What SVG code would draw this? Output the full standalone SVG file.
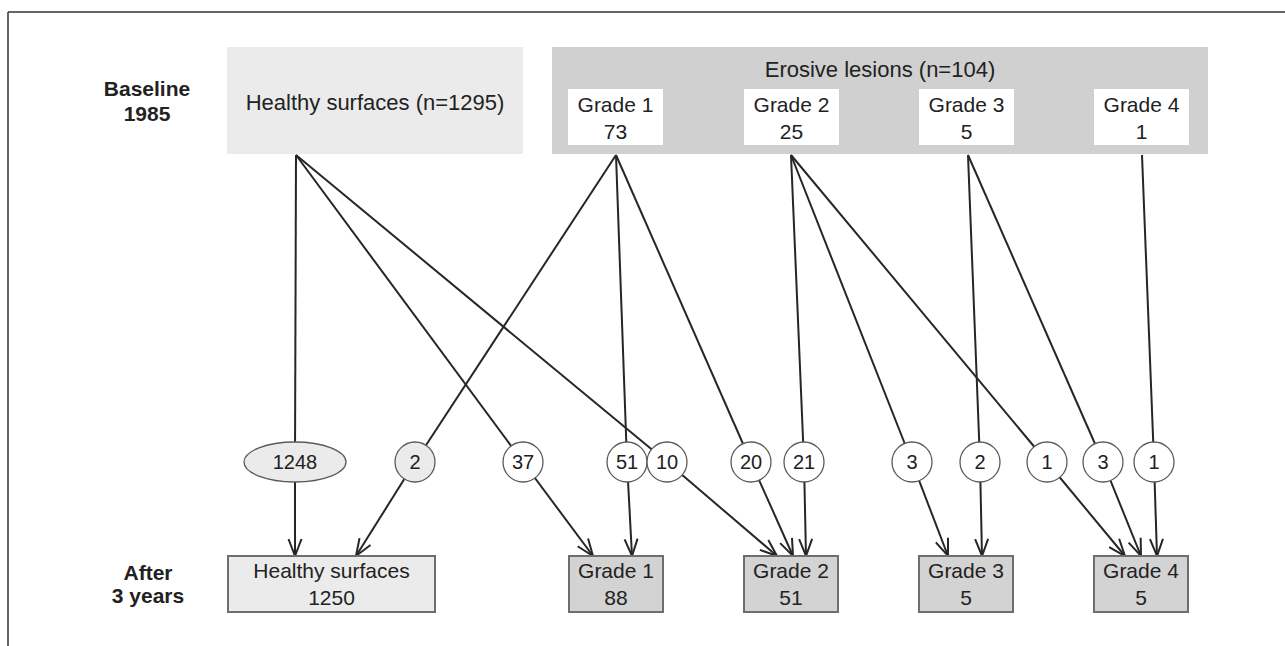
<svg xmlns="http://www.w3.org/2000/svg" width="1285" height="646" viewBox="0 0 1285 646">
  <style>
    text { font-family: "Liberation Sans", Arial, sans-serif; fill: #222; text-anchor: middle; }
    .t { font-size: 21px; }
    .big { font-size: 22px; }
    .lbl { font-size: 21px; font-weight: bold; }
    .num { font-size: 20px; }
    .conn { stroke: #262626; stroke-width: 2; fill: none; }
    .arr { stroke: #262626; stroke-width: 2; fill: none; marker-end: url(#ah); }
    .bubble { fill: #ffffff; stroke: #5a5a5a; stroke-width: 1.3; }
    .bubble.g { fill: #ebebeb; }
    .out { fill: #d3d3d3; stroke: #6e6e6e; stroke-width: 2; }
    .out.h { fill: #ebebeb; }
  </style>
  <defs>
    <marker id="ah" markerUnits="userSpaceOnUse" markerWidth="20" markerHeight="16" refX="17" refY="7" orient="auto" overflow="visible">
      <path d="M0,0.5 L17,7 L0,13.5" fill="none" stroke="#262626" stroke-width="2"/>
    </marker>
  </defs>
  <rect x="0" y="0" width="1285" height="646" fill="#ffffff"/>
  <g id="frame" stroke="#333" stroke-width="1.5" fill="none">
    <line x1="8" y1="12" x2="1285" y2="12"/>
    <line x1="8" y1="12" x2="8" y2="646"/>
  </g>

  <g id="row-labels">
    <text class="lbl" x="147" y="96">Baseline</text>
    <text class="lbl" x="147" y="121">1985</text>
    <text class="lbl" x="148" y="580">After</text>
    <text class="lbl" x="148" y="603">3 years</text>
  </g>

  <g id="connectors">
    <line class="conn" x1="296" y1="155" x2="295" y2="462"/>
    <line class="conn" x1="296" y1="155" x2="523" y2="462"/>
    <line class="conn" x1="296" y1="155" x2="667" y2="462"/>
    <line class="conn" x1="616" y1="155" x2="415" y2="462"/>
    <line class="conn" x1="616" y1="155" x2="627" y2="462"/>
    <line class="conn" x1="616" y1="155" x2="751" y2="462"/>
    <line class="conn" x1="791" y1="155" x2="804" y2="462"/>
    <line class="conn" x1="791" y1="155" x2="912" y2="462"/>
    <line class="conn" x1="791" y1="155" x2="1047" y2="462"/>
    <line class="conn" x1="968" y1="155" x2="980" y2="462"/>
    <line class="conn" x1="968" y1="155" x2="1103" y2="462"/>
    <line class="conn" x1="1142" y1="155" x2="1154" y2="462"/>

    <line class="arr" x1="295" y1="462" x2="295" y2="556"/>
    <line class="arr" x1="415" y1="462" x2="356" y2="556"/>
    <line class="arr" x1="523" y1="462" x2="593" y2="556"/>
    <line class="arr" x1="627" y1="462" x2="632" y2="556"/>
    <line class="arr" x1="667" y1="462" x2="777" y2="556"/>
    <line class="arr" x1="751" y1="462" x2="793" y2="556"/>
    <line class="arr" x1="804" y1="462" x2="806" y2="556"/>
    <line class="arr" x1="912" y1="462" x2="948" y2="556"/>
    <line class="arr" x1="980" y1="462" x2="982" y2="556"/>
    <line class="arr" x1="1047" y1="462" x2="1125" y2="556"/>
    <line class="arr" x1="1103" y1="462" x2="1141" y2="556"/>
    <line class="arr" x1="1154" y1="462" x2="1157" y2="556"/>
  </g>

  <g id="healthy-baseline">
    <rect x="227" y="47" width="296" height="107" fill="#ebebeb"/>
    <text class="big" x="375" y="110">Healthy surfaces (n=1295)</text>
  </g>
  <g id="erosive-baseline">
    <rect x="552" y="47" width="656" height="107" fill="#d0d0d0"/>
    <text class="big" x="880" y="77">Erosive lesions (n=104)</text>
  </g>
  <g id="g1-baseline">
    <rect x="568" y="89" width="95" height="56" fill="#ffffff"/>
    <text class="t" x="615.5" y="112">Grade 1</text>
    <text class="t" x="615.5" y="139">73</text>
  </g>
  <g id="g2-baseline">
    <rect x="744" y="89" width="95" height="56" fill="#ffffff"/>
    <text class="t" x="791.5" y="112">Grade 2</text>
    <text class="t" x="791.5" y="139">25</text>
  </g>
  <g id="g3-baseline">
    <rect x="919" y="89" width="95" height="56" fill="#ffffff"/>
    <text class="t" x="966.5" y="112">Grade 3</text>
    <text class="t" x="966.5" y="139">5</text>
  </g>
  <g id="g4-baseline">
    <rect x="1094" y="89" width="95" height="56" fill="#ffffff"/>
    <text class="t" x="1141.5" y="112">Grade 4</text>
    <text class="t" x="1141.5" y="139">1</text>
  </g>

  <g id="n1248"><ellipse class="bubble g" cx="295" cy="462" rx="51" ry="20"/><text class="num" x="295" y="469">1248</text></g>
  <g id="n2a"><circle class="bubble g" cx="415" cy="462" r="20"/><text class="num" x="415" y="469">2</text></g>
  <g id="n37"><circle class="bubble" cx="523" cy="462" r="20"/><text class="num" x="523" y="469">37</text></g>
  <g id="n51"><circle class="bubble" cx="627" cy="462" r="20"/><text class="num" x="627" y="469">51</text></g>
  <g id="n10"><circle class="bubble" cx="667" cy="462" r="20"/><text class="num" x="667" y="469">10</text></g>
  <g id="n20"><circle class="bubble" cx="751" cy="462" r="20"/><text class="num" x="751" y="469">20</text></g>
  <g id="n21"><circle class="bubble" cx="804" cy="462" r="20"/><text class="num" x="804" y="469">21</text></g>
  <g id="n3a"><circle class="bubble" cx="912" cy="462" r="20"/><text class="num" x="912" y="469">3</text></g>
  <g id="n2b"><circle class="bubble" cx="980" cy="462" r="20"/><text class="num" x="980" y="469">2</text></g>
  <g id="n1a"><circle class="bubble" cx="1047" cy="462" r="20"/><text class="num" x="1047" y="469">1</text></g>
  <g id="n3b"><circle class="bubble" cx="1103" cy="462" r="20"/><text class="num" x="1103" y="469">3</text></g>
  <g id="n1b"><circle class="bubble" cx="1154" cy="462" r="20"/><text class="num" x="1154" y="469">1</text></g>

  <g id="healthy-after">
    <rect class="out h" x="228" y="556" width="207" height="56"/>
    <text class="t" x="331.5" y="578">Healthy surfaces</text>
    <text class="t" x="331.5" y="605">1250</text>
  </g>
  <g id="g1-after">
    <rect class="out" x="569" y="556" width="94" height="56"/>
    <text class="t" x="616" y="578">Grade 1</text>
    <text class="t" x="616" y="605">88</text>
  </g>
  <g id="g2-after">
    <rect class="out" x="744" y="556" width="94" height="56"/>
    <text class="t" x="791" y="578">Grade 2</text>
    <text class="t" x="791" y="605">51</text>
  </g>
  <g id="g3-after">
    <rect class="out" x="919" y="556" width="94" height="56"/>
    <text class="t" x="966" y="578">Grade 3</text>
    <text class="t" x="966" y="605">5</text>
  </g>
  <g id="g4-after">
    <rect class="out" x="1094" y="556" width="94" height="56"/>
    <text class="t" x="1141" y="578">Grade 4</text>
    <text class="t" x="1141" y="605">5</text>
  </g>
</svg>
